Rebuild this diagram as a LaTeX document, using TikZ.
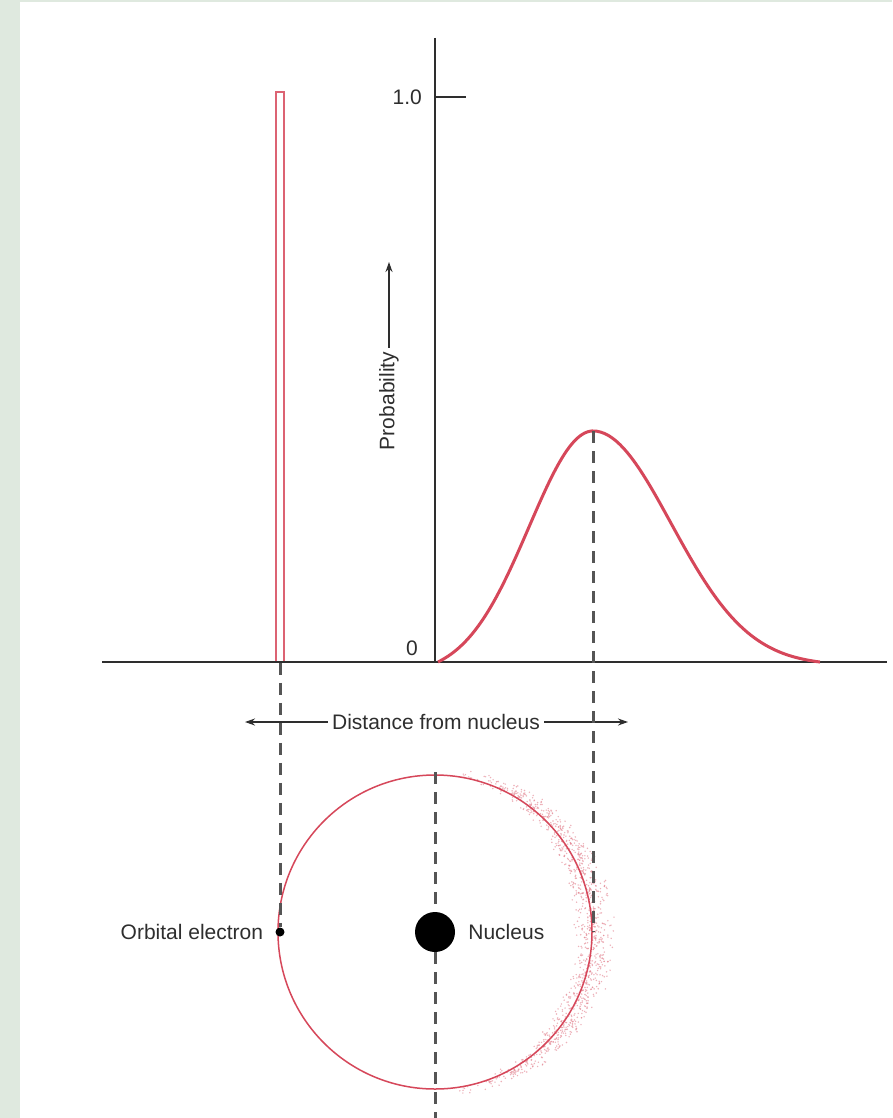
\documentclass[tikz,border=0pt]{standalone}
\usepackage{fontspec}
\setmainfont{Liberation Sans}
\usetikzlibrary{arrows.meta}
\definecolor{OrbRed}{HTML}{D6475A}
\definecolor{OrbInk}{HTML}{2E2E2E}
\definecolor{OrbDash}{HTML}{555555}
\definecolor{OrbMargin}{HTML}{DFE9DF}
\tikzset{
  >={Stealth[length=10pt,width=7pt]},
  axis/.style={draw=OrbInk,line width=2pt},
  guide/.style={draw=OrbDash,line width=3pt,dash pattern=on 12pt off 8pt},
  pointer/.style={->,draw=OrbInk,line width=1.4pt},
  lbl/.style={font=\fontsize{21}{25}\selectfont,text=OrbInk,inner sep=4pt},
  curve/.style={draw=OrbRed,line width=3pt},
  orbit/.style={draw=OrbRed,line width=1.5pt},
  barbox/.style={draw=OrbRed!85,line width=1.5pt,minimum width=8pt,
    minimum height=570pt,inner sep=0pt},
  cloud/.style={fill=OrbRed!70,opacity=.6}
}

\begin{document}
\begin{tikzpicture}[x=1pt,y=-1pt]
  \useasboundingbox (0,0) rectangle (892,1118);
  \fill[white] (0,0) rectangle (892,1118);
  \fill[OrbMargin] (0,0) rectangle (20,1118);
  \fill[OrbMargin] (0,0) rectangle (892,2);

  \coordinate (ytop) at (435,38);
  \coordinate (origin) at (435,662);
  \coordinate (xleft) at (102,662);
  \coordinate (xright) at (887,662);
  \coordinate (onetick) at (466,97);
  \coordinate (peak) at (593,431);
  \coordinate (orbtop) at (435,772);
  \coordinate (orbbot) at (435,1118);

  \node[barbox] (bar) at (280,377) {};
  \node[lbl,anchor=east] (one) at (426,97) {1.0};
  \node[lbl,anchor=east] (zero) at (422,648) {0};
  \node[lbl,rotate=90] (prob) at (389,401) {Probability};
  \coordinate (probtip) at (391,262);
  \node[lbl] (dist) at (436,722) {Distance from nucleus};
  \coordinate (distleft) at (245,722);
  \coordinate (distright) at (628,722);

  \draw[axis] (ytop) -- (origin);
  \draw[axis] (xleft) -- (xright);
  \draw[axis] (onetick -| origin) -- (onetick);
  \draw[pointer] (prob.east) -- (prob.east |- probtip);
  \draw[pointer] (dist.west) -- (distleft);
  \draw[pointer] (dist.east) -- (distright);

  \draw[curve] plot[domain=438:593,samples=60]
      (\x,{662-231*(exp(-0.5*pow((\x-593)/64,2))-0.0530)/0.9470})
    -- plot[domain=593:820,samples=60]
      (\x,{662-231*(exp(-0.5*pow((\x-593)/78,2))-0.0145)/0.9855});

  \pgfmathsetseed{42}
  \foreach \k in {1,...,1150}{
    \pgfmathsetmacro\ang{84*(0.7*rand+0.3*rand)}
    \pgfmathsetmacro\spr{5+17*pow(cos(\ang),2)}
    \pgfmathsetmacro\rad{160+\spr*(rand+rand)/2}
    \fill[cloud] ({435+\rad*cos(\ang)},{932+\rad*sin(\ang)}) circle (0.8);
  }
  \draw[orbit] (435,932) circle (157);

  \node[circle,fill=black,minimum size=40pt,inner sep=0pt] (nucleus) at (435,932) {};
  \node[circle,fill=black,minimum size=9pt,inner sep=0pt] (electron) at (280,932) {};
  \node[lbl,anchor=west] (nuclbl) at ([xshift=9pt]nucleus.east) {Nucleus};
  \node[lbl,anchor=east] (eleclbl) at ([xshift=-8pt]electron.west) {Orbital electron};

  \draw[guide] (bar.south) -- (electron.north);
  \draw[guide] (peak) -- (peak |- nucleus);
  \draw[guide] (orbtop) -- (nucleus.north);
  \draw[guide] (nucleus.south) -- (orbbot);
\end{tikzpicture}
\end{document}
